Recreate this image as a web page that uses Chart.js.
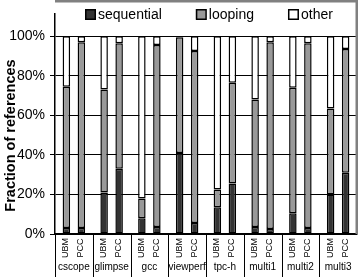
<!DOCTYPE html>
<html>
<head>
<meta charset="utf-8">
<script src="https://cdn.jsdelivr.net/npm/chart.js@4/dist/chart.umd.min.js"></script>
<style>
html,body{margin:0;padding:0;background:#fff;}
#wrap{width:358px;height:277px;position:relative;}
canvas{display:block;}
</style>
</head>
<body>
<div id="wrap"><canvas id="c" width="358" height="277"></canvas></div>
<script>
const groups = ['cscope','glimpse','gcc','viewperf','tpc-h','multi1','multi2','multi3'];
const policies = ['UBM','PCC'];
const seriesNames = ['sequential','looping','other'];
const ubmSequential = [3, 21, 8, 41, 13.5, 3.5, 10.5, 20];
const ubmLooping    = [71.5, 52, 10, 58.5, 9, 64.5, 63.5, 43.5];
const ubmOther      = [25.5, 27, 82, 0.5, 77.5, 32, 26, 36.5];
const pccSequential = [3, 33, 3.5, 5.5, 25.5, 2.5, 3, 31];
const pccLooping    = [94, 63.5, 92, 87, 51, 94.5, 93.5, 62.5];
const pccOther      = [3, 3.5, 4.5, 7.5, 23.5, 3, 3.5, 6.5];
const yTickValues = [0, 20, 40, 60, 80, 100];
const yTitle = 'Fraction of references';

const colors = ['#333333', '#999999', '#ffffff'];
const FONT = '"Liberation Sans", Arial, Helvetica, sans-serif';

function ds(label, data, colorIdx, stack, showInLegend) {
  return {
    label: label, data: data, stack: stack,
    backgroundColor: colors[colorIdx], borderColor: '#000', borderWidth: 1.5,
    borderSkipped: false, categoryPercentage: 0.795, barPercentage: 0.5,
    legendItem: showInLegend
  };
}

const datasets = [
  ds(seriesNames[0], ubmSequential, 0, policies[0], true),
  ds(seriesNames[1], ubmLooping, 1, policies[0], true),
  ds(seriesNames[2], ubmOther, 2, policies[0], true),
  ds(seriesNames[0], pccSequential, 0, policies[1], false),
  ds(seriesNames[1], pccLooping, 1, policies[1], false),
  ds(seriesNames[2], pccOther, 2, policies[1], false)
];

const decor = {
  id: 'decor',
  afterDraw(chart) {
    const ctx = chart.ctx, a = chart.chartArea, xs = chart.scales.x;
    const W = chart.width, H = chart.height;
    const gw = (a.right - a.left) / groups.length;
    ctx.save();
    // gray frame
    ctx.fillStyle = '#808080';
    ctx.fillRect(a.left, 0, W - a.left, 2.5);
    ctx.fillRect(W - 2.5, 0, 2.5, a.bottom);
    // separators
    ctx.strokeStyle = '#000'; ctx.lineWidth = 1;
    for (let k = 0; k < groups.length; k++) {
      const xk = Math.round(a.left + k * gw) + 0.5;
      ctx.beginPath(); ctx.moveTo(xk, a.bottom); ctx.lineTo(xk, H); ctx.stroke();
    }
    // policy labels (rotated)
    ctx.fillStyle = '#000';
    ctx.font = '9px ' + FONT;
    ctx.textAlign = 'center'; ctx.textBaseline = 'middle';
    [0, 3].forEach((di, pi) => {
      const meta = chart.getDatasetMeta(di);
      meta.data.forEach(bar => {
        ctx.save();
        ctx.translate(bar.x - 0.5, a.bottom + 14);
        ctx.rotate(-Math.PI / 2);
        ctx.fillText(policies[pi], 0, 0);
        ctx.restore();
      });
    });
    // group labels
    ctx.font = '10px ' + FONT;
    groups.forEach((g, i) => {
      ctx.fillText(g, xs.getPixelForValue(i), a.bottom + 33);
    });
    // legend
    ctx.font = '14px ' + FONT;
    ctx.textAlign = 'left'; ctx.textBaseline = 'alphabetic';
    let lx = 85;
    chart.data.datasets.filter(d => d.legendItem).forEach(d => {
      ctx.fillStyle = d.backgroundColor;
      ctx.fillRect(lx, 9, 10, 10);
      ctx.strokeStyle = '#000'; ctx.lineWidth = 1.5;
      ctx.strokeRect(lx + 0.75, 9.75, 9.5, 9.5);
      ctx.fillStyle = '#000';
      ctx.fillText(d.label, lx + 13, 19);
      lx += 13 + ctx.measureText(d.label).width + 34;
    });
    // y title
    ctx.save();
    ctx.translate(11, 135.5);
    ctx.rotate(-Math.PI / 2);
    ctx.font = 'bold 14.5px ' + FONT;
    ctx.textAlign = 'center'; ctx.textBaseline = 'middle';
    ctx.fillText(yTitle, 0, 0);
    ctx.restore();
    ctx.restore();
  }
};

new Chart(document.getElementById('c'), {
  type: 'bar',
  data: { labels: groups, datasets: datasets },
  options: {
    responsive: false, animation: false, devicePixelRatio: 1,
    layout: { padding: { top: 2, right: 1, left: 0, bottom: 0 } },
    plugins: { legend: { display: false }, tooltip: { enabled: false } },
    scales: {
      x: {
        stacked: true,
        grid: { display: false },
        border: { display: true, color: '#000', width: 1.5 },
        ticks: { display: false },
        afterFit: s => { s.height = 43; }
      },
      y: {
        stacked: true, min: 0, max: 111.54,
        afterFit: s => { s.width = 55; },
        afterBuildTicks: s => { s.ticks = yTickValues.map(v => ({ value: v })); },
        ticks: {
          includeBounds: false, padding: 5, color: '#000',
          font: { family: FONT, size: 14 },
          callback: v => v + '%'
        },
        grid: { color: '#000', lineWidth: 1, tickLength: 5, drawTicks: true },
        border: { display: true, color: '#000', width: 1.5 }
      }
    }
  },
  plugins: [decor]
});
</script>
</body>
</html>
